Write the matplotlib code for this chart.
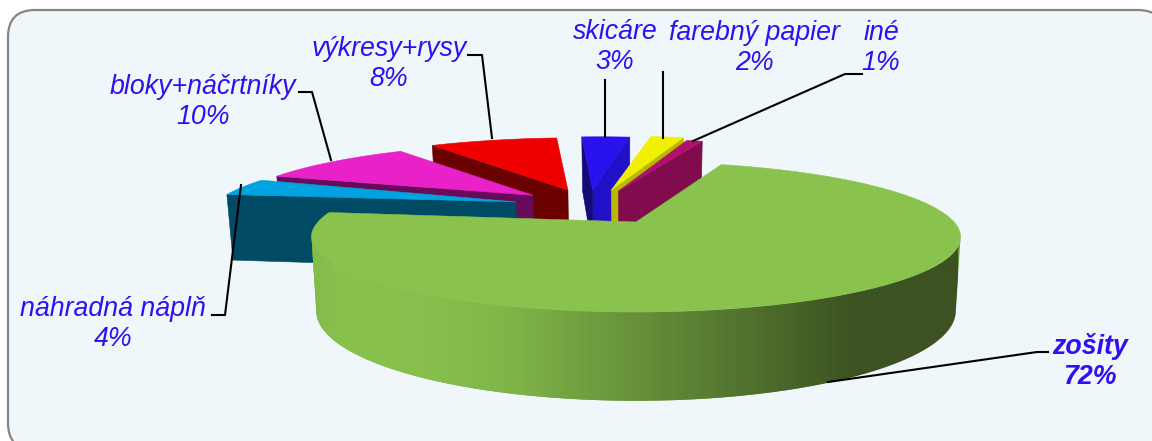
import numpy as np
import matplotlib
matplotlib.use("Agg")
import matplotlib.pyplot as plt
from matplotlib.patches import FancyBboxPatch, Polygon
from matplotlib.colors import LinearSegmentedColormap

# ---- data (clockwise, starting with the big slice) ----
categories = ["zošity", "náhradná náplň", "bloky+náčrtníky", "výkresy+rysy",
              "skicáre", "farebný papier", "iné"]
shares = [72, 4, 10, 8, 3, 2, 1]

# ---- projection / style ----
X0, Y0, A, B, K, DEPTH, BOTTOM_SCALE = 636, 222, 318, 72, 0.2, 71, 0.985
START = 18.6
offsets = {"zošity": (0, 0), "náhradná náplň": (-.40, .295), "bloky+náčrtníky": (-.35, .40),
           "výkresy+rysy": (-.235, .487), "skicáre": (-.15, .5), "farebný papier": (-.085, .487),
           "iné": (-.06, .47)}
radius = {"výkresy+rysy": 1.04, "skicáre": 1.05, "farebný papier": 1.08, "iné": 1.03}
nudge = {"náhradná náplň": -1, "bloky+náčrtníky": -3, "výkresy+rysy": -2, "skicáre": -1}
top_col = {"zošity": "#8AC24E", "náhradná náplň": "#00A3E0", "bloky+náčrtníky": "#E821C8",
           "výkresy+rysy": "#EE0000", "skicáre": "#2A12EE", "farebný papier": "#F0F000", "iné": "#B0106E"}
start_col = {"náhradná náplň": "#004A63", "bloky+náčrtníky": "#660B59",
             "výkresy+rysy": "#6B0000", "skicáre": "#140A78"}
end_col = {"skicáre": "#2210C8", "farebný papier": "#B8B800", "iné": "#800B4D"}
draw_order = ["skicáre", "farebný papier", "iné", "výkresy+rysy", "bloky+náčrtníky", "náhradná náplň"]
TEXT = "#3010F0"

plt.rcParams["font.family"] = ["Liberation Sans", "DejaVu Sans"]
fig = plt.figure(figsize=(11.52, 4.41), dpi=100, facecolor="white")
ax = fig.add_axes([0, 0, 1, 1])
ax.axis("off")

ax.add_patch(FancyBboxPatch((8, 10), 1157, 440, boxstyle="round,pad=0,rounding_size=27",
                            fc="#EFF7FA", ec="#858585", lw=1.6, zorder=0))


def proj(u, v, bottom=False):
    s = 1 + K * np.asarray(v, float)
    x = np.asarray(u, float) / s
    y = np.asarray(v, float) / s
    if bottom:
        return X0 + A * x * BOTTOM_SCALE, Y0 - B * y + DEPTH / s
    return X0 + A * x, Y0 - B * y


def pts(xy):
    return np.column_stack([np.atleast_1d(xy[0]), np.atleast_1d(xy[1])])


# slice angles from the values
spans = {}
a = START
for c, sh in zip(categories, shares):
    spans[c] = (a, a + sh * 3.6)
    a += sh * 3.6

z = 2


def add(poly, col):
    global z
    ax.add_patch(Polygon(poly, closed=True, fc=col, ec=col, lw=0.4, zorder=z))
    z += 1


def ring(c, n=60):
    t0, t1 = spans[c]
    t = np.radians(np.linspace(t0, t1, n) + nudge.get(c, 0))
    du, dv = offsets[c]
    r = radius.get(c, 1)
    return du + r * np.sin(t), dv + r * np.cos(t)


for c in draw_order:
    du, dv = offsets[c]
    u, v = ring(c)
    ap_t, ap_b = pts(proj(du, dv)), pts(proj(du, dv, True))
    if c in end_col:
        add(np.vstack([ap_t, pts(proj(u[-1], v[-1])), pts(proj(u[-1], v[-1], True)), ap_b]), end_col[c])
    if c in start_col:
        add(np.vstack([ap_t, pts(proj(u[0], v[0])), pts(proj(u[0], v[0], True)), ap_b]), start_col[c])
    add(np.vstack([ap_t, pts(proj(u, v))]), top_col[c])

# big slice: shaded wall, then top
c = categories[0]
u, v = ring(c, 400)
xt, yt = proj(u, v)
xb, yb = proj(u, v, True)
shade = LinearSegmentedColormap.from_list("wall", [
    (0.0, "#84BC4B"), (0.05, "#8AC24E"), (0.18, "#87BF4C"), (0.3, "#80B648"), (0.5, "#66913A"),
    (0.62, "#577C32"), (0.84, "#3D5222"), (1.0, "#3D5222")])
keep = v < -K
wall = Polygon(np.vstack([np.column_stack([xt[keep], yt[keep]]),
                          np.column_stack([xb[keep], yb[keep]])[::-1]]),
               closed=True, fc="#6B9A3E", ec="none", zorder=z)
ax.add_patch(wall)
img = ax.imshow(np.linspace(0, 1, 646).reshape(1, -1), cmap=shade, extent=(312, 958, 441, 0),
                aspect="auto", zorder=z + 0.5, interpolation="bilinear")
img.set_clip_path(wall)
z += 1
add(np.vstack([pts(proj(0, 0)), np.column_stack([xt, yt])]), top_col[c])

# leader lines
leaders = [
    ([299, 312, 331], [92, 92, 160]),
    ([468, 482, 492], [55, 55, 138]),
    ([605, 605], [80, 137]),
    ([663, 663], [72, 138]),
    ([862, 845, 693], [74, 74, 141]),
    ([212, 225, 241], [315, 315, 185]),
    ([1048, 1037, 828], [352, 352, 382]),
]
for lx, ly in leaders:
    ax.plot(lx, ly, color="black", lw=1.5, solid_joinstyle="round", zorder=z)
z += 1

# labels
label_pos = {"bloky+náčrtníky": (203, 102), "výkresy+rysy": (389, 64), "skicáre": (615, 47),
             "farebný papier": (754, 48), "iné": (881, 48), "náhradná náplň": (113, 323.5), "zošity": (1090, 362)}
for c, sh in zip(categories, shares):
    x, y = label_pos[c]
    ax.text(x, y, f"{c}\n{sh}%", ha="center", va="center", style="italic", fontsize=19.3,
            color=TEXT, fontweight="bold" if c == "zošity" else "normal", linespacing=1.2, zorder=z)

ax.set_xlim(0, 1152)
ax.set_ylim(441, 0)
fig.savefig("out.png", dpi=100)
